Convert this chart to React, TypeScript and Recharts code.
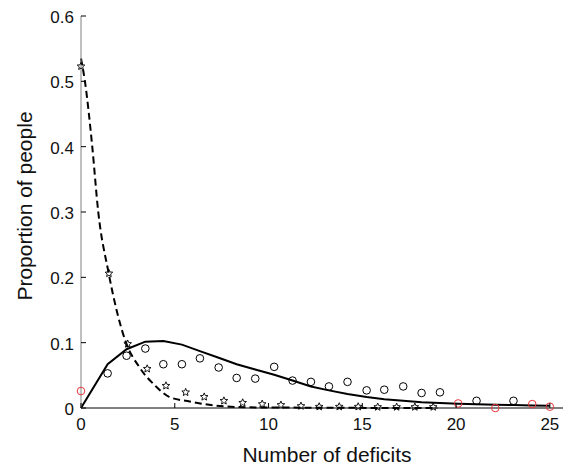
import React from 'react';
import { ComposedChart, Line, Scatter, XAxis, YAxis } from 'recharts';

// observed proportions (open circles)
const obsX = [1.42, 2.43, 3.43, 4.39, 5.38, 6.34, 7.34, 8.3, 9.29, 10.3, 11.28, 12.26, 13.22, 14.21, 15.23, 16.17, 17.18, 18.16, 19.14, 21.09, 23.06];
const obsY = [0.053, 0.08, 0.091, 0.067, 0.067, 0.076, 0.062, 0.046, 0.045, 0.063, 0.042, 0.04, 0.033, 0.04, 0.027, 0.028, 0.033, 0.023, 0.024, 0.011, 0.011];

// observed points drawn in red
const redX = [0, 20.11, 22.09, 24.06, 25.0];
const redY = [0.026, 0.007, 0, 0.006, 0.002];

// model fit (solid line)
const fitX = [0, 1.42, 2.43, 3.43, 4.39, 5.38, 6.34, 7.34, 8.3, 9.29, 10.3, 11.28, 12.26, 13.22, 14.21, 15.23, 16.17, 17.18, 18.16, 19.14, 20.11, 21.09, 22.09, 23.06, 24.06, 25.0];
const fitY = [0, 0.067, 0.09, 0.1015, 0.1026, 0.097, 0.087, 0.077, 0.067, 0.059, 0.051, 0.042, 0.033, 0.027, 0.0215, 0.017, 0.0135, 0.011, 0.0088, 0.0075, 0.0065, 0.0057, 0.005, 0.0045, 0.004, 0.0035];

// second group (stars) and its fit (dashed line)
const starX = [0, 1.49, 2.49, 3.53, 4.53, 5.58, 6.57, 7.62, 8.62, 9.66, 10.66, 11.73, 12.7, 13.77, 14.78, 15.82, 16.83, 17.8, 18.78];
const starY = [0.523, 0.206, 0.098, 0.06, 0.034, 0.024, 0.017, 0.011, 0.008, 0.006, 0.0046, 0.003, 0.002, 0.002, 0.002, 0.0015, 0.0015, 0.0015, 0.0015];

const dashX = [0, 0.21, 0.6, 0.92, 1.45, 2.4, 3.1, 4.0, 4.7, 5.8, 7.4, 9.0, 12.0, 19.0];
const dashY = [0.535, 0.5, 0.4, 0.3, 0.21, 0.1, 0.063, 0.033, 0.017, 0.01, 0.003, 0.001, 0.0005, 0];

const xTicks = [0, 5, 10, 15, 20, 25];
const yTicks = [0, 0.1, 0.2, 0.3, 0.4, 0.5, 0.6];

const pts = (xs: number[], ys: number[]) => xs.map((x, i) => ({ x, y: ys[i] }));

const X_MARGIN = 10;
const Y_MARGIN = 7;

const XTick = (props: any) => {
  const { x, y, payload } = props;
  const ay = y - X_MARGIN;
  return (
    <g>
      <line x1={x} x2={x} y1={ay} y2={ay - 5} stroke="#000" />
      <text x={x} y={y} dy="0.71em" textAnchor="middle" fontSize={17} fill="#111">{payload.value}</text>
    </g>
  );
};

const YTick = (props: any) => {
  const { x, y, payload } = props;
  const ax = x + Y_MARGIN;
  return (
    <g>
      <line x1={ax} x2={ax + 5} y1={y} y2={y} stroke="#000" />
      <text x={x} y={y + 1} dy="0.36em" textAnchor="end" fontSize={17} fill="#111">{payload.value}</text>
    </g>
  );
};

const Circle = (color: string) => (props: any) => (
  <circle cx={props.cx} cy={props.cy} r={3.8} fill="none" stroke={color} strokeWidth={1} />
);

const Star = (props: any) => {
  const { cx, cy } = props;
  const p: string[] = [];
  for (let i = 0; i < 10; i++) {
    const r = i % 2 === 0 ? 4 : 1.8;
    const a = -Math.PI / 2 + (i * Math.PI) / 5;
    p.push(`${cx + r * Math.cos(a)},${cy + r * Math.sin(a)}`);
  }
  return <polygon points={p.join(' ')} fill="none" stroke="#000" strokeWidth={0.9} />;
};

export default function App() {
  return (
    <div style={{ position: 'fixed', left: 0, top: 0, width: 564, height: 465, background: '#fff', fontFamily: '"Liberation Sans", Arial, sans-serif' }}>
      <ComposedChart width={564} height={465} margin={{ top: 16, right: 1, left: 0, bottom: 0 }}>
        <XAxis
          type="number"
          dataKey="x"
          domain={[0, 25.7]}
          ticks={xTicks}
          tickSize={0}
          tickMargin={X_MARGIN}
          tick={<XTick />}
          axisLine={{ stroke: '#000' }}
          height={57}
          label={{
            content: (p: any) => (
              <text x={p.viewBox.x + p.viewBox.width / 2 + 5} y={p.viewBox.y + p.viewBox.height - 3} textAnchor="middle" fontSize={21} fill="#111">
                Number of deficits
              </text>
            ),
          }}
        />
        <YAxis
          type="number"
          dataKey="y"
          domain={[0, 0.6]}
          ticks={yTicks}
          tickSize={0}
          tickMargin={Y_MARGIN}
          tick={<YTick />}
          axisLine={{ stroke: '#808080' }}
          width={81}
          label={{
            content: (p: any) => {
              const cy = p.viewBox.y + p.viewBox.height / 2 - 6;
              return (
                <text x={32} y={cy} transform={`rotate(-90 32 ${cy})`} textAnchor="middle" fontSize={21} fill="#111">
                  Proportion of people
                </text>
              );
            },
          }}
        />
        <Line data={pts(dashX, dashY)} dataKey="y" type="monotone" stroke="#000" strokeWidth={2} strokeDasharray="7 4" dot={false} isAnimationActive={false} />
        <Line data={pts(fitX, fitY)} dataKey="y" type="linear" stroke="#000" strokeWidth={2} dot={false} isAnimationActive={false} />
        <Scatter data={pts(starX, starY)} dataKey="y" shape={Star} isAnimationActive={false} />
        <Scatter data={pts(obsX, obsY)} dataKey="y" shape={Circle('#000')} isAnimationActive={false} />
        <Scatter data={pts(redX, redY)} dataKey="y" shape={Circle('#e8383d')} isAnimationActive={false} />
      </ComposedChart>
    </div>
  );
}
